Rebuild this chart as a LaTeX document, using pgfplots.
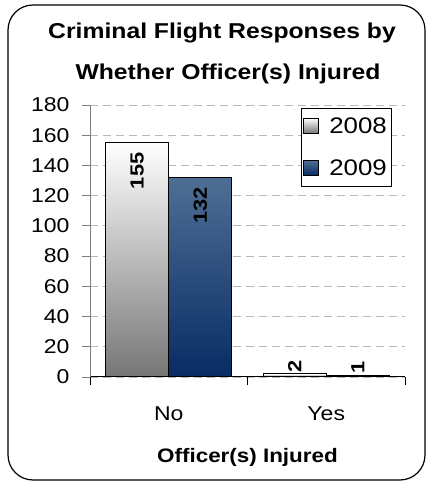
\documentclass[border=0pt]{standalone}
\usepackage{fontspec}
\setmainfont[FakeStretch=1.15]{Liberation Sans}
\usepackage{pgfplots}
\pgfplotsset{compat=1.18}
\definecolor{gbot}{RGB}{118,118,118}
\definecolor{btop}{RGB}{78,110,148}
\definecolor{bbot}{RGB}{8,44,100}
\definecolor{gridgray}{RGB}{185,185,185}
\begin{document}
\begin{tikzpicture}[x=1bp,y=1bp]
\draw[line width=1.2bp, rounded corners=25bp] (8,3) rectangle (425,478);
\node[font=\fontsize{21.5bp}{25bp}\selectfont\bfseries, anchor=base] at (222,444) {Criminal Flight Responses by};
\node[font=\fontsize{21.5bp}{25bp}\selectfont\bfseries, anchor=base] at (228,403) {Whether Officer(s) Injured};
\begin{axis}[
  at={(90bp,106bp)}, anchor=south west, scale only axis,
  width=315bp, height=272bp,
  ybar=0pt, bar width=0.4,
  xmin=-0.5, xmax=1.5, ymin=0, ymax=180,
  axis x line*=bottom, axis y line*=left,
  x axis line style={black, line width=1bp, -},
  y axis line style={gray, line width=0.8bp, -},
  ytick={0,20,...,180},
  xtick={0,1}, xticklabels={No,Yes},
  minor xtick={-0.5,0.5,1.5},
  major x tick style={draw=none},
  minor x tick style={black, line width=0.8bp},
  ytick style={gray, line width=0.8bp},
  tick align=outside, major tick length=8bp, minor tick length=8bp,
  ymajorgrids, major grid style={gridgray, line width=0.8bp, dash pattern=on 8bp off 5bp},
  /pgf/number format/assume math mode=true,
  tick label style={font=\fontsize{20bp}{24bp}\selectfont},
  yticklabel style={xshift=-9bp},
  xticklabel style={anchor=base, yshift=-36bp},
  xlabel={Officer(s) Injured},
  xlabel style={font=\fontsize{19.5bp}{22bp}\selectfont\bfseries, anchor=base, at={(axis description cs:0.5,0)}, yshift=-85bp},
  legend style={at={(0.956,0.988)}, anchor=north east, draw=black, line width=0.6bp,
    font=\fontsize{22.5bp}{26bp}\selectfont, row sep=21bp, inner xsep=2bp, inner ysep=7bp},
  legend cell align=left,
  legend image code/.code={\draw[#1, draw=black, line width=0.9bp] (0bp,-7bp) rectangle (15bp,8bp); \path (23bp,0bp);},
]
\addplot[bar shift=-0.2, draw=black, line width=1bp, top color=white, bottom color=gbot,
  nodes near coords, every node near coord/.append style={yshift=-6bp, rotate=90, anchor=east, font=\fontsize{19bp}{22bp}\selectfont\bfseries, black}]
  coordinates {(0,155)};
\addplot[bar shift=0.2, draw=black, line width=1bp, top color=btop, bottom color=bbot,
  nodes near coords, every node near coord/.append style={yshift=-6bp, rotate=90, anchor=east, font=\fontsize{19bp}{22bp}\selectfont\bfseries, black}]
  coordinates {(0,132)};
\addplot[bar shift=-0.2, draw=black, line width=1bp, top color=white, bottom color=gbot, forget plot,
  nodes near coords, every node near coord/.append style={yshift=-2bp, rotate=90, anchor=west, font=\fontsize{19bp}{22bp}\selectfont\bfseries, black}]
  coordinates {(1,2)};
\addplot[bar shift=0.2, draw=black, line width=1bp, top color=btop, bottom color=bbot, forget plot,
  nodes near coords, every node near coord/.append style={yshift=-2bp, rotate=90, anchor=west, font=\fontsize{19bp}{22bp}\selectfont\bfseries, black}]
  coordinates {(1,1)};
\legend{2008,2009}
\end{axis}
\pgfresetboundingbox
\useasboundingbox (0,0) rectangle (427,483);
\end{tikzpicture}
\end{document}
